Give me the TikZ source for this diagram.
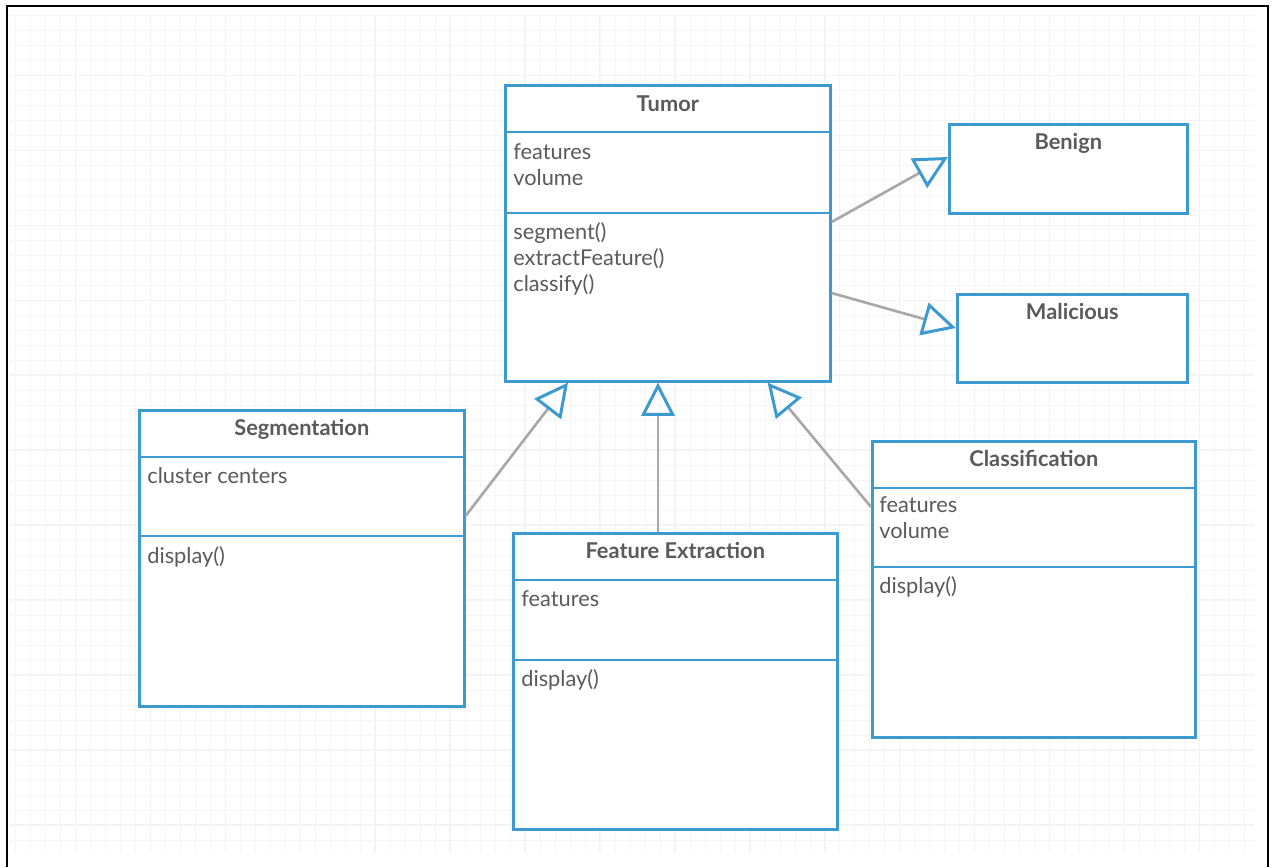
\documentclass[tikz,border=0pt]{standalone}
\usepackage{fontspec}
\setmainfont{Lato}
\usetikzlibrary{arrows.meta, calc}

\definecolor{umlblue}{HTML}{3D9AD1}
\definecolor{umltext}{HTML}{5A5A5A}
\definecolor{umlgray}{HTML}{A8A8A8}

\begin{document}
\begin{tikzpicture}[x=0.02cm, y=-0.02cm,
  classbox/.style={draw=umlblue, line width=1.5pt, fill=white, anchor=north west, inner sep=0pt},
  classline/.style={draw=umlblue, line width=1.5pt},
  classname/.style={anchor=base, text=umltext, inner sep=0pt, font=\fontsize{12.4pt}{14.7pt}\selectfont\bfseries},
  members/.style={anchor=base west, align=left, text=umltext, inner sep=0pt, font=\fontsize{12.4pt}{14.7pt}\selectfont},
  inherit/.style={draw=umlgray, line width=1.5pt, -{Triangle[open, length=19pt, width=19pt, line width=1.7pt, color=umlblue]}}]
\useasboundingbox (0,0) rectangle (1275,867);
% paper grid and frame
\draw[black!4, line width=0.4pt, step=0.3cm] (10,15) grid (1254,852);
\draw[black!5, line width=0.5pt, step=1.5cm] (10,15) grid (1254,852);
\draw[black, line width=1.6pt] (7,867) -- (7,6) -- (1268,6) -- (1268,867);

% Tumor (member nodes sit on their last baseline)
\node[classbox, minimum width=6.5cm, minimum height=5.92cm] (tumor) at (504,84) {};
\draw[classline] ($(tumor.north west)+(0,48)$) -- ($(tumor.north east)+(0,48)$);
\draw[classline] ($(tumor.north west)+(0,129)$) -- ($(tumor.north east)+(0,129)$);
\node[classname] (tumorname) at ($(tumor.north)+(0,27)$) {Tumor};
\node[members] (tumorattr) at ($(tumor.north west)+(9,101)$) {features\\volume};
\node[members] (tumorops) at ($(tumor.north west)+(9,207)$) {segment()\\extractFeature()\\classify()};

% Benign, Malicious
\node[classbox, minimum width=4.76cm, minimum height=1.78cm] (benign) at (948,123) {};
\node[classname] (benignname) at ($(benign.north)+(0,26)$) {Benign};
\node[classbox, minimum width=4.6cm, minimum height=1.76cm] (malicious) at (956,293) {};
\node[classname] (maliciousname) at ($(malicious.north)+(0,26)$) {Malicious};

% Segmentation
\node[classbox, minimum width=6.5cm, minimum height=5.92cm] (seg) at (138,409) {};
\draw[classline] ($(seg.north west)+(0,48)$) -- ($(seg.north east)+(0,48)$);
\draw[classline] ($(seg.north west)+(0,127)$) -- ($(seg.north east)+(0,127)$);
\node[classname] (segname) at ($(seg.north)+(0,26)$) {Segmentation};
\node[members] (segattr) at ($(seg.north west)+(9,74)$) {cluster centers};
\node[members] (segops) at ($(seg.north west)+(9,154)$) {display()};

% Feature Extraction
\node[classbox, minimum width=6.48cm, minimum height=5.92cm] (featx) at (512,532) {};
\draw[classline] ($(featx.north west)+(0,48)$) -- ($(featx.north east)+(0,48)$);
\draw[classline] ($(featx.north west)+(0,128)$) -- ($(featx.north east)+(0,128)$);
\node[classname] (featxname) at ($(featx.north)+(0,26)$) {Feature Extraction};
\node[members] (featxattr) at ($(featx.north west)+(9,74)$) {features};
\node[members] (featxops) at ($(featx.north west)+(9,154)$) {display()};

% Classification
\node[classbox, minimum width=6.46cm, minimum height=5.92cm] (classif) at (871,440) {};
\draw[classline] ($(classif.north west)+(0,48)$) -- ($(classif.north east)+(0,48)$);
\draw[classline] ($(classif.north west)+(0,127)$) -- ($(classif.north east)+(0,127)$);
\node[classname] (classifname) at ($(classif.north)+(0,26)$) {Classification};
\node[members] (classifattr) at ($(classif.north west)+(8,98)$) {features\\volume};
\node[members] (classifops) at ($(classif.north west)+(8,153)$) {display()};

% generalisations
\draw[inherit] ($(tumor.north east)+(0,138)$) -- ($(benign.north west)+(0,34)$);
\draw[inherit] ($(tumor.north east)+(0,209)$) -- ($(malicious.north west)+(0,35)$);
\draw[inherit] ($(seg.north east)+(0,107)$) -- ($(tumor.south west)+(64,0)$);
\draw[inherit] ($(featx.north west)+(146,0)$) -- ($(tumor.south west)+(154,0)$);
\draw[inherit] ($(classif.north west)+(0,67)$) -- ($(tumor.south east)+(-64,0)$);
\end{tikzpicture}
\end{document}
